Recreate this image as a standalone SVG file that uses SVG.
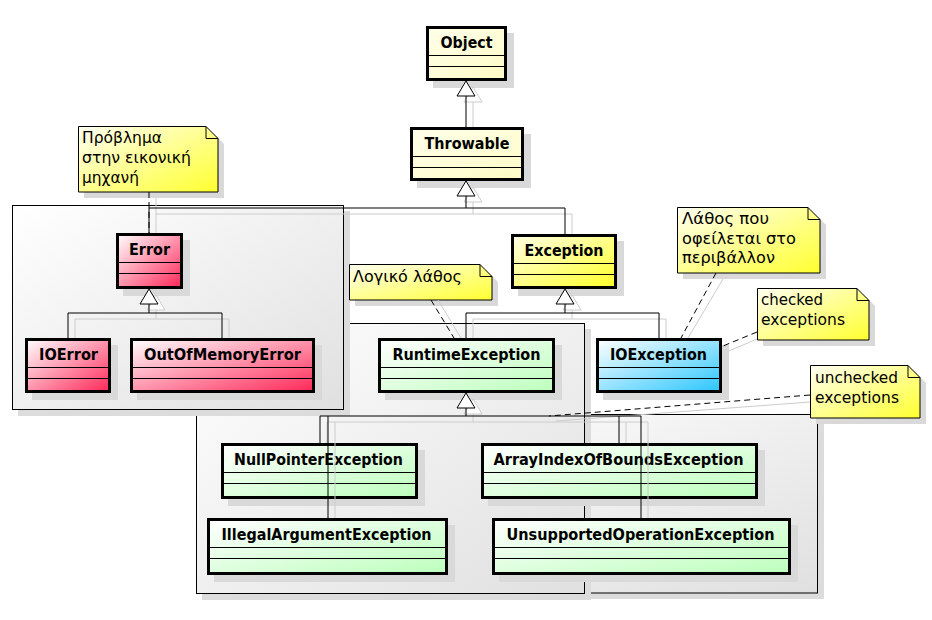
<svg xmlns="http://www.w3.org/2000/svg" width="932" height="620" viewBox="0 0 932 620">
<defs>
<linearGradient id="gFrame" x1="0" y1="0" x2="1" y2="1"><stop offset="0" stop-color="#ffffff"/><stop offset="1" stop-color="#e0e0e0"/></linearGradient>
<linearGradient id="gPale" x1="0" y1="0" x2="1" y2="1"><stop offset="0" stop-color="#FFFFEA"/><stop offset="1" stop-color="#FEFBC6"/></linearGradient>
<linearGradient id="gYellow" x1="0" y1="0" x2="1" y2="1"><stop offset="0" stop-color="#FFFFE6"/><stop offset="1" stop-color="#FFFF2A"/></linearGradient>
<linearGradient id="gRed" x1="0" y1="0" x2="1" y2="1"><stop offset="0" stop-color="#FFFFFF"/><stop offset="1" stop-color="#FF2858"/></linearGradient>
<linearGradient id="gGreen" x1="0" y1="0" x2="1" y2="1"><stop offset="0" stop-color="#FFFFFF"/><stop offset="1" stop-color="#BDFFBD"/></linearGradient>
<linearGradient id="gBlue" x1="0" y1="0" x2="1" y2="1"><stop offset="0" stop-color="#FFFFFF"/><stop offset="1" stop-color="#2CC6FF"/></linearGradient>
<linearGradient id="gNote" x1="0" y1="0" x2="1" y2="1"><stop offset="0" stop-color="#FFFFF2"/><stop offset="1" stop-color="#FFFF30"/></linearGradient>
</defs>
<style>
.frame{stroke:#000;stroke-width:1}
.fsh{fill:#dcdcdc}
.sh{fill:#d9d9d9}
.cls{stroke:#000;stroke-width:3}
.div{stroke:#000;stroke-width:1;fill:none}
.cn{font-family:"DejaVu Sans","Liberation Sans",sans-serif;font-weight:bold;font-size:15px;fill:#000;text-anchor:middle}
.note{fill:url(#gNote);stroke:#000;stroke-width:1}
.fold{fill:none;stroke:#000;stroke-width:1}
.nt{font-family:"DejaVu Sans","Liberation Sans",sans-serif;font-size:15px;fill:#000}
.ln{fill:none;stroke:#000;stroke-width:1}
.lnsh{fill:none;stroke:#cccccc;stroke-width:1}
.tri{fill:#fff;stroke:#000;stroke-width:1}
.trish{fill:#fff;stroke:#cccccc;stroke-width:1}
.dash{fill:none;stroke:#000;stroke-width:1;stroke-dasharray:6,4}
</style>

<g id="frames">
  <g id="frame-right">
    <rect class="fsh" x="349" y="420" width="475" height="179"/>
    <rect class="frame" x="343.5" y="414.5" width="474" height="178.5" fill="url(#gFrame)"/>
  </g>
  <g id="frame-unchecked">
    <rect class="fsh" x="202" y="329" width="389" height="271"/>
    <rect class="frame" x="196.5" y="323.5" width="388" height="270" fill="url(#gFrame)"/>
  </g>
  <g id="frame-errors">
    <rect class="fsh" x="18" y="211" width="332" height="205"/>
    <rect class="frame" x="12.5" y="205.5" width="331" height="204" fill="url(#gFrame)"/>
  </g>
</g>

<g id="node-Object">
  <rect class="sh" x="433" y="33" width="81" height="55"/>
  <rect class="cls" x="427.5" y="27.5" width="78" height="52" fill="url(#gPale)"/>
  <path class="div" d="M426,55.5H507M426,66.5H507"/>
  <text class="cn" x="466.5" y="47.5" textLength="52" lengthAdjust="spacingAndGlyphs">Object</text>
</g>
<g id="node-Throwable">
  <rect class="sh" x="417" y="134" width="114" height="54"/>
  <rect class="cls" x="411.5" y="128.5" width="111" height="51" fill="url(#gPale)"/>
  <path class="div" d="M410,156.5H524M410,167.5H524"/>
  <text class="cn" x="467" y="148.5" textLength="85" lengthAdjust="spacingAndGlyphs">Throwable</text>
</g>
<g id="node-Error">
  <rect class="sh" x="123" y="240" width="67" height="56"/>
  <rect class="cls" x="117.5" y="234.5" width="64" height="53" fill="url(#gRed)"/>
  <path class="div" d="M116,262.5H183M116,273.5H183"/>
  <text class="cn" x="149.5" y="254.5" textLength="41" lengthAdjust="spacingAndGlyphs">Error</text>
</g>
<g id="node-IOError">
  <rect class="sh" x="32" y="345" width="86" height="55"/>
  <rect class="cls" x="26.5" y="339.5" width="83" height="52" fill="url(#gRed)"/>
  <path class="div" d="M25,367.5H111M25,378.5H111"/>
  <text class="cn" x="68.5" y="359.5" textLength="59" lengthAdjust="spacingAndGlyphs">IOError</text>
</g>
<g id="node-OutOfMemoryError">
  <rect class="sh" x="137" y="345" width="185" height="55"/>
  <rect class="cls" x="131.5" y="339.5" width="182" height="52" fill="url(#gRed)"/>
  <path class="div" d="M130,367.5H315M130,378.5H315"/>
  <text class="cn" x="222.5" y="359.5" textLength="157" lengthAdjust="spacingAndGlyphs">OutOfMemoryError</text>
</g>
<g id="node-Exception">
  <rect class="sh" x="518" y="241" width="106" height="55"/>
  <rect class="cls" x="512.5" y="235.5" width="103" height="52" fill="url(#gYellow)"/>
  <path class="div" d="M511,263.5H617M511,274.5H617"/>
  <text class="cn" x="564" y="255.5" textLength="79" lengthAdjust="spacingAndGlyphs">Exception</text>
</g>
<g id="node-RuntimeException">
  <rect class="sh" x="385" y="345" width="177" height="55"/>
  <rect class="cls" x="379.5" y="339.5" width="174" height="52" fill="url(#gGreen)"/>
  <path class="div" d="M378,367.5H555M378,378.5H555"/>
  <text class="cn" x="466.5" y="359.5" textLength="148" lengthAdjust="spacingAndGlyphs">RuntimeException</text>
</g>
<g id="node-IOException">
  <rect class="sh" x="603" y="345" width="126" height="55"/>
  <rect class="cls" x="597.5" y="339.5" width="123" height="52" fill="url(#gBlue)"/>
  <path class="div" d="M596,367.5H722M596,378.5H722"/>
  <text class="cn" x="658.5" y="359.5" textLength="97" lengthAdjust="spacingAndGlyphs">IOException</text>
</g>
<g id="node-NullPointerException">
  <rect class="sh" x="228" y="450" width="197" height="56"/>
  <rect class="cls" x="222.5" y="444.5" width="194" height="53" fill="url(#gGreen)"/>
  <path class="div" d="M221,472.5H418M221,483.5H418"/>
  <text class="cn" x="318.5" y="465" textLength="169" lengthAdjust="spacingAndGlyphs">NullPointerException</text>
</g>
<g id="node-ArrayIndexOfBoundsException">
  <rect class="sh" x="488" y="450" width="277" height="56"/>
  <rect class="cls" x="482.5" y="444.5" width="274" height="53" fill="url(#gGreen)"/>
  <path class="div" d="M481,472.5H758M481,483.5H758"/>
  <text class="cn" x="618.5" y="465" textLength="250" lengthAdjust="spacingAndGlyphs">ArrayIndexOfBoundsException</text>
</g>
<g id="node-IllegalArgumentException">
  <rect class="sh" x="214" y="525" width="241" height="57"/>
  <rect class="cls" x="208.5" y="519.5" width="238" height="54" fill="url(#gGreen)"/>
  <path class="div" d="M207,547.5H448M207,558.5H448"/>
  <text class="cn" x="326.5" y="540" textLength="210" lengthAdjust="spacingAndGlyphs">IllegalArgumentException</text>
</g>
<g id="node-UnsupportedOperationException">
  <rect class="sh" x="499" y="525" width="299" height="57"/>
  <rect class="cls" x="493.5" y="519.5" width="296" height="54" fill="url(#gGreen)"/>
  <path class="div" d="M492,547.5H791M492,558.5H791"/>
  <text class="cn" x="640.5" y="540" textLength="268" lengthAdjust="spacingAndGlyphs">UnsupportedOperationException</text>
</g>

<g id="note-vm">
  <path class="sh" d="M84,132H212L224,144V198H84Z"/>
  <path class="note" d="M78.5,126.5H206L218,138.5V192H78.5Z"/>
  <path class="fold" d="M206,126.5V138.5H218"/>
  <text class="nt" x="82" y="143" textLength="80" lengthAdjust="spacingAndGlyphs">Πρόβλημα</text>
  <text class="nt" x="82" y="163" textLength="109" lengthAdjust="spacingAndGlyphs">στην εικονική</text>
  <text class="nt" x="82" y="183" textLength="57" lengthAdjust="spacingAndGlyphs">μηχανή</text>
</g>
<g id="note-logic">
  <path class="sh" d="M355,270H486L498,282V306H355Z"/>
  <path class="note" d="M349.5,264.5H480L492,276.5V300H349.5Z"/>
  <path class="fold" d="M480,264.5V276.5H492"/>
  <text class="nt" x="353" y="282" textLength="109" lengthAdjust="spacingAndGlyphs">Λογικό λάθος</text>
</g>
<g id="note-env">
  <path class="sh" d="M683,213H814L826,225V279H683Z"/>
  <path class="note" d="M677.5,207.5H808L820,219.5V273H677.5Z"/>
  <path class="fold" d="M808,207.5V219.5H820"/>
  <text class="nt" x="682" y="224" textLength="87" lengthAdjust="spacingAndGlyphs">Λάθος που</text>
  <text class="nt" x="682" y="244" textLength="114" lengthAdjust="spacingAndGlyphs">οφείλεται στο</text>
  <text class="nt" x="682" y="263" textLength="93" lengthAdjust="spacingAndGlyphs">περιβάλλον</text>
</g>
<g id="note-checked">
  <path class="sh" d="M763,294H863L875,306V346H763Z"/>
  <path class="note" d="M757.5,288.5H857L869,300.5V340H757.5Z"/>
  <path class="fold" d="M857,288.5V300.5H869"/>
  <text class="nt" x="761" y="305" textLength="62" lengthAdjust="spacingAndGlyphs">checked</text>
  <text class="nt" x="761" y="325" textLength="84" lengthAdjust="spacingAndGlyphs">exceptions</text>
</g>
<g id="note-unchecked">
  <path class="sh" d="M816,371H914L926,383V424H816Z"/>
  <path class="note" d="M810.5,365.5H908L920,377.5V418H810.5Z"/>
  <path class="fold" d="M908,365.5V377.5H920"/>
  <text class="nt" x="815" y="383" textLength="83" lengthAdjust="spacingAndGlyphs">unchecked</text>
  <text class="nt" x="815" y="403" textLength="84" lengthAdjust="spacingAndGlyphs">exceptions</text>
</g>

<g id="connectors">
  <g id="connector-shadows">
    <polygon class="trish" points="473,87 464,102 482,102"/>
    <path class="lnsh" d="M473,102V127"/>
    <polygon class="trish" points="473,187 464,202 482,202"/>
    <path class="lnsh" d="M473,202V214M156,233V214H572V234"/>
    <polygon class="trish" points="156,295 147,310 165,310"/>
    <path class="lnsh" d="M156,310V319M75,338V319H229V338"/>
    <polygon class="trish" points="572,295 563,310 581,310"/>
    <path class="lnsh" d="M572,310V319M473,338V319H666V338"/>
    <polygon class="trish" points="473,399 464,414 482,414"/>
    <path class="lnsh" d="M473,414V422M327,443V422H648V518M335,422V518M626,422V443"/>
    <path class="lnsh" d="M156,198V214M438,300L461,338M723,279L688,338M757,339L729,351M810,402L556,421"/>
  </g>
  <g id="edge-Throwable-Object">
    <polygon class="tri" points="466,81 457,96 475,96"/>
    <path class="ln" d="M466,96V127"/>
  </g>
  <g id="edge-Throwable-children">
    <polygon class="tri" points="466,181 457,196 475,196"/>
    <path class="ln" d="M466,196V208M149,233V208H565V234"/>
  </g>
  <g id="edge-Error-children">
    <polygon class="tri" points="149,289 140,304 158,304"/>
    <path class="ln" d="M149,304V313M68,338V313H222V338"/>
  </g>
  <g id="edge-Exception-children">
    <polygon class="tri" points="565,289 556,304 574,304"/>
    <path class="ln" d="M565,304V313M466,338V313H659V338"/>
  </g>
  <g id="edge-RuntimeException-children">
    <polygon class="tri" points="466,393 457,408 475,408"/>
    <path class="ln" d="M466,408V416M320,443V416H641V518M328,416V518M619,416V443"/>
  </g>
  <g id="note-links">
    <path class="dash" d="M149,192V233"/>
    <path class="dash" d="M431,300L454,338"/>
    <path class="dash" d="M716,273L681,338"/>
    <path class="dash" d="M757,332L723,346"/>
    <path class="dash" d="M810,395L549,416"/>
  </g>
</g>
</svg>
